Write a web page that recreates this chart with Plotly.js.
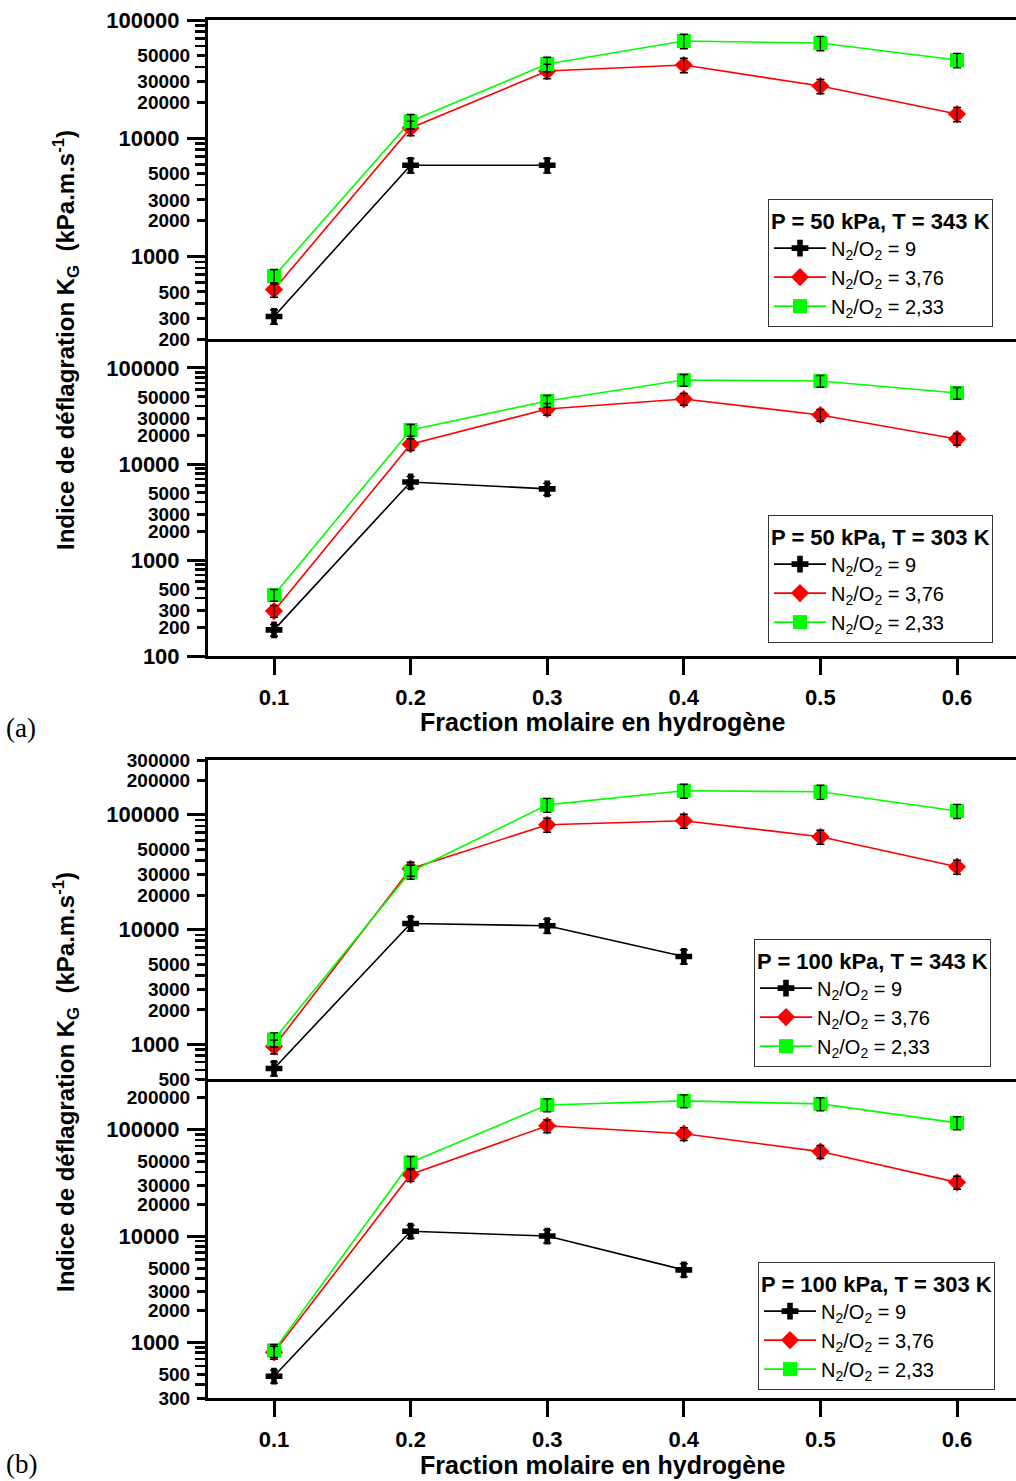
<!DOCTYPE html>
<html><head><meta charset="utf-8">
<script src="https://cdn.plot.ly/plotly-3.0.1.min.js"></script>
<style>body{margin:0;background:#fff}</style>
</head><body><div id="chart" style="width:1016px;height:1481px"></div>
<script>
// ---- data ----
const xFrac = [0.1, 0.2, 0.3, 0.4, 0.5, 0.6];
const xTickText = ['0.1', '0.2', '0.3', '0.4', '0.5', '0.6'];
const seriesNames = ['N<sub>2</sub>/O<sub>2</sub> = 9', 'N<sub>2</sub>/O<sub>2</sub> = 3,76', 'N<sub>2</sub>/O<sub>2</sub> = 2,33'];
const panelTitles = ['P = 50 kPa, T = 343 K', 'P = 50 kPa, T = 303 K', 'P = 100 kPa, T = 343 K', 'P = 100 kPa, T = 303 K'];
const xTitle = 'Fraction molaire en hydrogène';
const yTitle = 'Indice de déflagration K<sub>G</sub>  (kPa.m.s<sup>-1</sup>)';

// panel (a) top : P = 50 kPa, T = 343 K
const a1_n9   = [310, 5900, 5900];
const a1_n376 = [525, 12200, 37000, 41600, 27600, 16000];
const a1_n233 = [680, 13900, 42400, 66400, 63800, 45800];
// panel (a) bottom : P = 50 kPa, T = 303 K
const a2_n9   = [187, 6500, 5500];
const a2_n376 = [294, 16100, 37400, 47500, 32400, 18200];
const a2_n233 = [432, 22600, 45300, 75000, 73300, 54900];
// panel (b) top : P = 100 kPa, T = 343 K
const b1_n9   = [618, 11300, 10800, 5830];
const b1_n376 = [960, 33900, 81900, 88700, 64400, 35300];
const b1_n233 = [1105, 31900, 122000, 162000, 158500, 108000];
// panel (b) bottom : P = 100 kPa, T = 303 K
const b2_n9   = [481, 11100, 10000, 4810];
const b2_n376 = [807, 37900, 109000, 91800, 62300, 32000];
const b2_n233 = [841, 49200, 171000, 186700, 175000, 116000];

const errPercent = 14;

// y tick values
const decadeTicks = [100, 1000, 10000, 100000];
const a1_labelTicks = [200, 300, 500, 2000, 3000, 5000, 20000, 30000, 50000];
const a2_labelTicks = [200, 300, 500, 2000, 3000, 5000, 20000, 30000, 50000];
const b1_labelTicks = [500, 2000, 3000, 5000, 20000, 30000, 50000, 200000, 300000];
const b2_labelTicks = [300, 500, 2000, 3000, 5000, 20000, 30000, 50000, 200000];
const minorMult = [2, 3, 4, 5, 6, 7, 8, 9];

// ---- build ----
const panels = [
  {n9: a1_n9, n376: a1_n376, n233: a1_n233, labels: a1_labelTicks, range: [Math.log10(200), 5], maxMinor: 99999},
  {n9: a2_n9, n376: a2_n376, n233: a2_n233, labels: a2_labelTicks, range: [2, 5.302], maxMinor: 99999},
  {n9: b1_n9, n376: b1_n376, n233: b1_n233, labels: b1_labelTicks, range: [Math.log10(500), Math.log10(300000)], maxMinor: 1e9},
  {n9: b2_n9, n376: b2_n376, n233: b2_n233, labels: b2_labelTicks, range: [Math.log10(300), Math.log10(300000)], maxMinor: 1e9}
];
const H = 1481, W = 1016;
const pxY = [[20, 339], [339, 656], [760, 1079], [1079, 1398]];
const xLeftPx = 208;
const xDomain = [xLeftPx / W, 1];
const xRange = [0.1 - (274 - xLeftPx) / 1366, 0.6 + (W - 957) / 1366];
const legendPos = [[768, 199], [768, 515], [754, 939], [758, 1262]];
const FONT = 'Liberation Sans, Arial, sans-serif';
const colors = ['#000000', '#ff0000', '#00ff00'];
const symbols = ['cross', 'diamond', 'square'];

const traces = [];
const layout = {
  width: W, height: H,
  margin: {l: 0, r: 0, t: 0, b: 0},
  paper_bgcolor: '#fff', plot_bgcolor: 'rgba(0,0,0,0)',
  showlegend: true,
  font: {family: FONT, color: '#000'},
  annotations: []
};

panels.forEach((p, i) => {
  const k = i + 1;
  const xa = k === 1 ? 'x' : 'x' + k;
  const ya = k === 1 ? 'y' : 'y' + k;
  const yOver = 'y' + (k + 4);
  const legName = k === 1 ? 'legend' : 'legend' + k;
  const series = [p.n9, p.n376, p.n233];
  series.forEach((vals, s) => {
    traces.push({
      type: 'scatter', mode: 'lines+markers',
      x: xFrac.slice(0, vals.length), y: vals,
      xaxis: xa, yaxis: ya, legend: legName,
      name: seriesNames[s],
      line: {color: colors[s], width: 1.6},
      marker: {symbol: symbols[s], size: 14, color: colors[s], line: {width: 0}}
    });
  });
  // error bars drawn on top of the markers
  series.forEach((vals, s) => {
    traces.push({
      type: 'scatter', mode: 'markers',
      x: xFrac.slice(0, vals.length), y: vals,
      xaxis: xa, yaxis: ya, legend: legName, showlegend: false, hoverinfo: 'skip',
      marker: {size: 1, opacity: 0, color: colors[s]},
      error_y: {type: 'percent', value: errPercent, color: '#000', thickness: 1.4, width: 4}
    });
  });
  // invisible anchor trace so the overlay (short tick) axis is drawn
  traces.push({
    type: 'scatter', mode: 'markers', x: [xFrac[0]], y: [p.labels[0]],
    xaxis: xa, yaxis: yOver, showlegend: false, hoverinfo: 'skip',
    marker: {size: 1, opacity: 0}
  });

  const dom = [1 - pxY[i][1] / H, 1 - pxY[i][0] / H];
  const isBottom = (k === 2 || k === 4);
  layout['xaxis' + (k === 1 ? '' : k)] = {
    domain: xDomain, range: xRange, anchor: ya,
    showline: true, linewidth: 3, linecolor: '#000', mirror: !isBottom,
    showgrid: false, zeroline: false,
    ticks: isBottom ? 'outside' : '', ticklen: 16, tickwidth: 3, tickcolor: '#000',
    tickmode: 'array', tickvals: xFrac, ticktext: xTickText,
    showticklabels: isBottom, ticklabelstandoff: 4,
    tickfont: {family: FONT, size: 22, weight: 'bold', color: '#000'}
  };
  const inRange = v => Math.log10(v) >= p.range[0] - 1e-6 && Math.log10(v) <= p.range[1] + 1e-6;
  const decs = decadeTicks.filter(inRange);
  const minorVals = [];
  decadeTicks.forEach(d => minorMult.forEach(m => {
    const v = d * m;
    if (inRange(v) && v <= p.maxMinor && !p.labels.includes(v)) minorVals.push(v);
  }));
  layout['yaxis' + (k === 1 ? '' : k)] = {
    domain: dom, range: p.range, type: 'log', anchor: xa,
    showline: true, linewidth: 3, linecolor: '#000', mirror: false,
    showgrid: false, zeroline: false,
    ticks: 'outside', ticklen: 18, tickwidth: 3, tickcolor: '#000',
    tickmode: 'array', tickvals: decs, ticktext: decs.map(String),
    ticklabelstandoff: 3,
    tickfont: {family: FONT, size: 22, weight: 'bold', color: '#000'},
    minor: {tickmode: 'array', tickvals: minorVals, ticks: 'outside', ticklen: 10, tickwidth: 2.5, tickcolor: '#000', showgrid: false}
  };
  layout['yaxis' + (k + 4)] = {
    overlaying: ya, anchor: xa, side: 'left', type: 'log', range: p.range,
    showline: false, showgrid: false, zeroline: false,
    ticks: 'outside', ticklen: 10, tickwidth: 3, tickcolor: '#000',
    tickmode: 'array', tickvals: p.labels, ticktext: p.labels.map(String),
    ticklabelstandoff: 3,
    tickfont: {family: FONT, size: 19, weight: 'bold', color: '#000'}
  };
  layout[legName] = {
    x: legendPos[i][0] / W, y: 1 - legendPos[i][1] / H, xanchor: 'left', yanchor: 'top',
    bgcolor: '#fff', bordercolor: '#333', borderwidth: 1,
    title: {text: panelTitles[i], font: {family: FONT, size: 22, weight: 'bold', color: '#000'}},
    font: {family: FONT, size: 20, color: '#000'},
    itemwidth: 52, tracegroupgap: 0
  };
});

// axis titles and panel labels
[[340, 722, '(a)', 1 - 728 / H, 'middle'], [1082, 1465, '(b)', 0, 'bottom']].forEach(([ycY, xtY, lab, lbY, lbAnchor]) => {
  layout.annotations.push({
    text: yTitle, xref: 'paper', yref: 'paper', x: 66 / W, y: 1 - ycY / H,
    xanchor: 'center', yanchor: 'middle', textangle: -90, showarrow: false,
    font: {family: FONT, size: 24, weight: 'bold', color: '#000'}
  });
  layout.annotations.push({
    text: xTitle, xref: 'paper', yref: 'paper', x: 602 / W, y: 1 - xtY / H,
    xanchor: 'center', yanchor: 'middle', showarrow: false,
    font: {family: FONT, size: 25, weight: 'bold', color: '#000'}
  });
  layout.annotations.push({
    text: lab, xref: 'paper', yref: 'paper', x: 4 / W, y: lbY,
    xanchor: 'left', yanchor: lbAnchor, showarrow: false,
    font: {family: 'Liberation Serif, Times New Roman, serif', size: 27, color: '#000'}
  });
});

Plotly.newPlot('chart', traces, layout, {staticPlot: true, displayModeBar: false});
</script>
</body></html>
